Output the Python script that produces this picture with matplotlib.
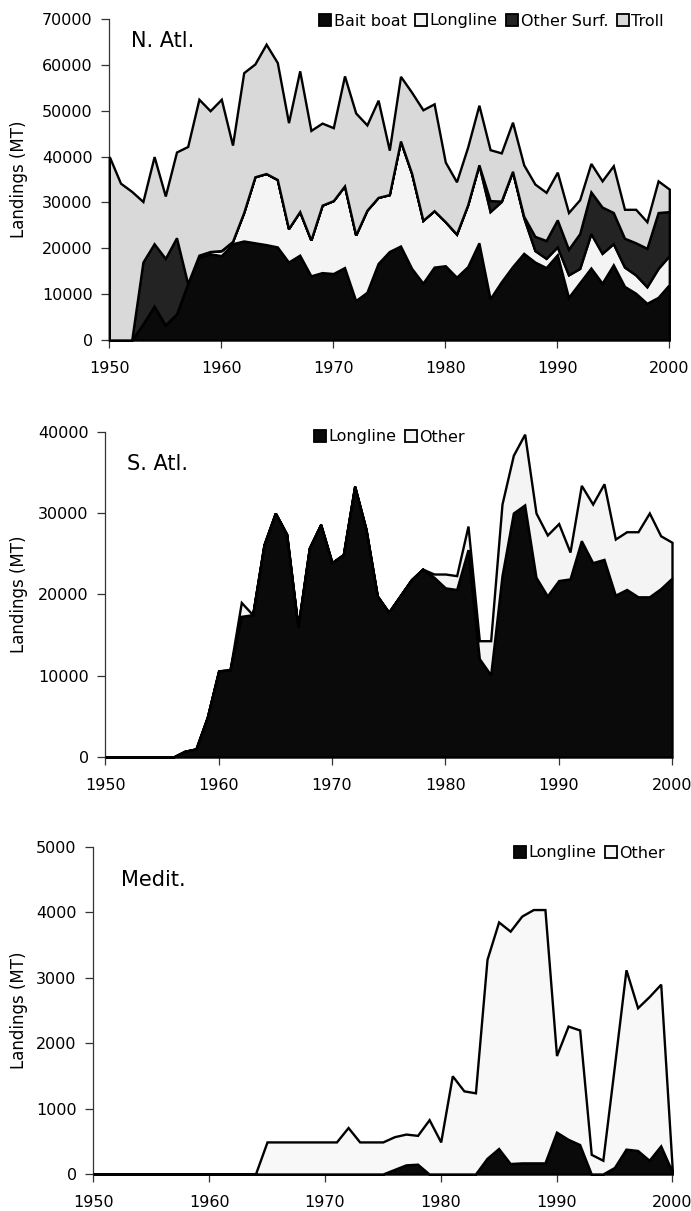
import numpy as np
import matplotlib
matplotlib.use("Agg")
import matplotlib.pyplot as plt
from matplotlib.patches import Patch

years = np.arange(1950, 2001)

# North Atlantic landings (MT) by gear
natl_bait_boat = [0, 0, 0, 3500, 7400, 3300, 5700, 12300, 18000, 18800,
                  18400, 21000, 21600, 21200, 20800, 20300, 17000, 18500, 14000, 14700,
                  14500, 15800, 8600, 10400, 16700, 19300, 20500, 15600, 12400, 15900,
                  16200, 13700, 16000, 21200, 9000, 12700, 16000, 18900, 17000, 15800,
                  18600, 9300, 12500, 15700, 12400, 16400, 11700, 10200, 8000, 9300,
                  12100]
natl_longline = [0, 0, 0, 0, 0, 0, 0, 0, 500, 500,
                 1100, 500, 6200, 14400, 15500, 14700, 7300, 9500, 7800, 14700,
                 15900, 17800, 14300, 17900, 14400, 12400, 22900, 20700, 13700, 12300,
                 9600, 9400, 13500, 17000, 19000, 17500, 20800, 7800, 2500, 2000,
                 1700, 4900, 3100, 7500, 6500, 4600, 4200, 4000, 3600, 6300,
                 6300]
natl_other_surf = [0, 0, 0, 13500, 13600, 14500, 16600, 0, 0, 0,
                   0, 0, 0, 0, 0, 0, 0, 0, 0, 0,
                   0, 0, 0, 0, 0, 0, 0, 0, 0, 0,
                   0, 0, 0, 0, 2400, 100, 0, 300, 3100, 3900,
                   5900, 5600, 7600, 9100, 10100, 6800, 6300, 7000, 8400, 12200,
                   9600]
natl_troll = [40000, 34200, 32400, 13200, 19000, 13600, 18700, 29900, 34000, 30700,
              33000, 21000, 30500, 24600, 28200, 25500, 23100, 30700, 23900, 17900,
              15900, 24000, 26600, 18600, 21200, 9700, 14100, 17700, 24100, 23300,
              13000, 11400, 12600, 13000, 11100, 10500, 10700, 11200, 11400, 10500,
              10400, 8000, 7400, 6200, 5700, 10200, 6300, 7300, 5800, 6900,
              4900]

# South Atlantic landings (MT)
satl_longline = [0, 0, 0, 0, 0, 0, 0, 700, 1000, 4900,
                 10600, 10700, 17300, 17500, 26100, 30000, 27400, 16000, 25700, 28600,
                 23900, 24900, 33300, 28000, 19800, 17800, 19800, 21800, 23100, 22100,
                 20800, 20600, 25500, 12100, 10100, 22300, 30000, 31000, 22100, 19800,
                 21700, 21900, 26600, 23900, 24300, 19900, 20600, 19700, 19700, 20700,
                 22000]
satl_other = [0, 0, 0, 0, 0, 0, 0, 0, 0, 0,
              0, 0, 1700, 0, 0, 0, 0, 0, 0, 0,
              0, 0, 0, 0, 0, 0, 0, 0, 0, 400,
              1700, 1700, 2900, 2200, 4200, 8800, 7100, 8700, 7900, 7500,
              7000, 3300, 6800, 7200, 9300, 6900, 7100, 8000, 10300, 6500,
              4400]

# Mediterranean landings (MT)
med_longline = [0, 0, 0, 0, 0, 0, 0, 0, 0, 0,
                0, 0, 0, 0, 0, 0, 0, 0, 0, 0,
                0, 0, 0, 0, 0, 0, 70, 140, 150, 0,
                0, 0, 0, 0, 240, 390, 160, 170, 170, 170,
                640, 530, 450, 0, 0, 100, 380, 360, 210, 430,
                30]
med_other = [0, 0, 0, 0, 0, 0, 0, 0, 0, 0,
             0, 0, 0, 0, 0, 490, 490, 490, 490, 490,
             490, 490, 710, 490, 490, 490, 500, 470, 440, 830,
             490, 1500, 1270, 1240, 3040, 3460, 3550, 3770, 3870, 3870,
             1170, 1730, 1750, 300, 210, 1550, 2740, 2180, 2500, 2470,
             30]

W, H = 691, 1211
FS_TICK = 11.5
FS_LAB = 12
FS_TITLE = 15

fig = plt.figure(figsize=(W / 100, H / 100), dpi=100)


def add_panel(left, right, top, bottom):
    return fig.add_axes([left / W, 1 - bottom / H, (right - left) / W, (bottom - top) / H])


def style_axis(ax, ymax, ystep, left_px, width_px):
    ax.set_xlim(1950, 2000)
    ax.set_ylim(0, ymax)
    ax.set_xticks(np.arange(1950, 2001, 10))
    ax.set_yticks(np.arange(0, ymax + 1, ystep))
    for s in ("top", "right"):
        ax.spines[s].set_visible(False)
    for s in ("left", "bottom"):
        ax.spines[s].set_linewidth(0.9)
        ax.spines[s].set_color("#333333")
    ax.tick_params(axis="x", direction="out", length=6, width=0.9, color="#333333",
                   pad=9, labelsize=FS_TICK)
    ax.tick_params(axis="y", direction="out", length=6, width=0.9, color="#333333",
                   pad=6, labelsize=FS_TICK)
    ax.set_ylabel("Landings (MT)", fontsize=FS_LAB)
    ax.yaxis.set_label_coords((28 - left_px) / width_px, 0.5)


def draw_stack(ax, series, colors):
    polys = ax.stackplot(years, *series, colors=colors, edgecolor="black",
                         linewidth=1.7, zorder=3)
    for p in polys:
        p.set_clip_on(False)
        p.set_joinstyle("miter")


def add_legend(ax, labels, colors, right_px, cy_px):
    handles = [Patch(facecolor=c, edgecolor="black", linewidth=1.3) for c in colors]
    fig.legend(handles, labels, loc="center right",
               bbox_to_anchor=(right_px / W, 1 - cy_px / H),
               ncol=len(labels), frameon=False, fontsize=FS_TICK,
               handlelength=0.75, handleheight=0.75, handletextpad=0.15,
               columnspacing=0.55, borderpad=0, borderaxespad=0)


BLACK = "#0a0a0a"
WHITE = "#f4f4f4"
DARK = "#232323"
LIGHT = "#d9d9d9"

# N. Atl.
ax1 = add_panel(109.3, 669.3, 19, 340)
draw_stack(ax1, [natl_bait_boat, natl_longline, natl_other_surf, natl_troll],
           [BLACK, WHITE, DARK, LIGHT])
style_axis(ax1, 70000, 10000, 109.3, 560)
add_legend(ax1, ["Bait boat", "Longline", "Other Surf.", "Troll"],
           [BLACK, WHITE, DARK, LIGHT], 664, 21)
fig.text(131 / W, 1 - 41 / H, "N. Atl.", fontsize=FS_TITLE, va="center", ha="left")

# S. Atl.
ax2 = add_panel(105.3, 672, 431.7, 757)
draw_stack(ax2, [satl_longline, satl_other], [BLACK, WHITE])
style_axis(ax2, 40000, 10000, 105.3, 566.7)
add_legend(ax2, ["Longline", "Other"], [BLACK, WHITE], 465, 437)
fig.text(127 / W, 1 - 464 / H, "S. Atl.", fontsize=FS_TITLE, va="center", ha="left")

# Medit.
ax3 = add_panel(93.3, 672.3, 846.7, 1174)
draw_stack(ax3, [med_longline, med_other], [BLACK, "#f8f8f8"])
style_axis(ax3, 5000, 1000, 93.3, 579)
add_legend(ax3, ["Longline", "Other"], [BLACK, "#f8f8f8"], 665, 853)
fig.text(121 / W, 1 - 880 / H, "Medit.", fontsize=FS_TITLE, va="center", ha="left")

fig.savefig("out.png", dpi=100)
